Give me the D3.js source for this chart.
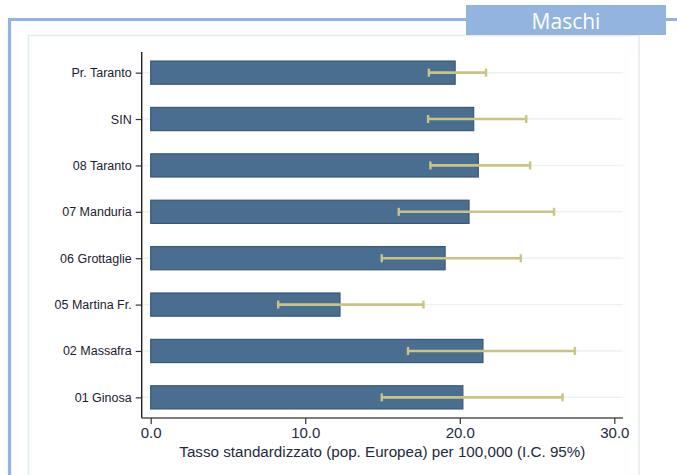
<!DOCTYPE html>
<html>
<head>
<meta charset="utf-8">
<script src="https://cdn.jsdelivr.net/npm/d3@7/dist/d3.min.js"></script>
<style>
  html, body { margin: 0; padding: 0; background: #fff; }
  svg { display: block; }
</style>
</head>
<body>
<svg id="chart" width="677" height="475"></svg>
<script>
// Standardized rates (European population) per 100,000 with 95% CI, males
const categories = ["Pr. Taranto", "SIN", "08 Taranto", "07 Manduria", "06 Grottaglie", "05 Martina Fr.", "02 Massafra", "01 Ginosa"];
const rates      = [19.7, 20.9, 21.2, 20.6, 19.05, 12.25, 21.5, 20.2];
const ciLow      = [18.0, 17.95, 18.1, 16.05, 14.95, 8.25, 16.65, 14.95];
const ciHigh     = [21.7, 24.3, 24.55, 26.1, 23.95, 17.65, 27.45, 26.65];
const xTicks     = [0, 10, 20, 30];
const panelTitle = "Maschi";
const axisTitle  = "Tasso standardizzato (pop. Europea) per 100,000 (I.C. 95%)";

const rows = categories.map((c, i) => ({ name: c, rate: rates[i], lo: ciLow[i], hi: ciHigh[i] }));

const svg = d3.select("#chart");

// Frame: light inner panel and blue outer border with the title tab
svg.append("rect")
  .attr("x", 28.5).attr("y", 35.5)
  .attr("width", 610.5).attr("height", 460)
  .attr("fill", "#fff").attr("stroke", "#e3edf1").attr("stroke-width", 1.5);

svg.append("path")
  .attr("d", "M9.5,480 V19.5 H677")
  .attr("fill", "none").attr("stroke", "#92b4de").attr("stroke-width", 3.2);

svg.append("rect")
  .attr("x", 466).attr("y", 5)
  .attr("width", 200).attr("height", 30)
  .attr("fill", "#92b4de");

svg.append("text")
  .attr("x", 566).attr("y", 28.5)
  .attr("text-anchor", "middle")
  .attr("font-family", "'Open Sans', 'Noto Sans', sans-serif")
  .attr("font-size", 21)
  .attr("fill", "#fff")
  .text(panelTitle);

// Scales
const plotLeft = 141.7, plotRight = 623, plotTop = 52, plotBottom = 418;
const x = d3.scaleLinear().domain([0, 30]).range([150.7, 614.3]);
const y = d3.scalePoint().domain(categories).range([plotTop, plotBottom]).padding(0.445);
const barH = y.step() * 0.5;

const g = svg.append("g");

// Horizontal grid lines at each category
g.selectAll("line.grid")
  .data(categories)
  .join("line")
  .attr("class", "grid")
  .attr("x1", plotLeft).attr("x2", plotRight)
  .attr("y1", d => y(d)).attr("y2", d => y(d))
  .attr("stroke", "#eaf2f5").attr("stroke-width", 1.5);

// Bars
g.selectAll("rect.bar")
  .data(rows)
  .join("rect")
  .attr("class", "bar")
  .attr("x", x(0))
  .attr("y", d => y(d.name) - barH / 2)
  .attr("width", d => x(d.rate) - x(0))
  .attr("height", barH)
  .attr("fill", "#4a6e8f")
  .attr("stroke", "#3b5878").attr("stroke-width", 1.2);

// Confidence intervals
const ciColor = "#c9c485";
const ci = g.selectAll("g.ci").data(rows).join("g").attr("class", "ci");
ci.append("line")
  .attr("x1", d => x(d.lo)).attr("x2", d => x(d.hi))
  .attr("y1", d => y(d.name)).attr("y2", d => y(d.name))
  .attr("stroke", ciColor).attr("stroke-width", 2.6);
ci.append("line")
  .attr("x1", d => x(d.lo)).attr("x2", d => x(d.lo))
  .attr("y1", d => y(d.name) - 4).attr("y2", d => y(d.name) + 4)
  .attr("stroke", ciColor).attr("stroke-width", 2.4);
ci.append("line")
  .attr("x1", d => x(d.hi)).attr("x2", d => x(d.hi))
  .attr("y1", d => y(d.name) - 4).attr("y2", d => y(d.name) + 4)
  .attr("stroke", ciColor).attr("stroke-width", 2.4);

// Y axis
const yAxis = svg.append("g")
  .attr("transform", `translate(${plotLeft},0)`)
  .call(d3.axisLeft(y).tickSize(6).tickPadding(4));
yAxis.select(".domain").attr("d", `M0,${plotTop}V${plotBottom}`).attr("stroke", "#222").attr("stroke-width", 1.4);
yAxis.selectAll(".tick line").attr("stroke", "#333").attr("stroke-width", 1.2);
yAxis.selectAll(".tick text")
  .attr("font-family", "'Liberation Sans', Arial, sans-serif")
  .attr("font-size", 12.5)
  .attr("fill", "#1a2030");

// X axis
const xAxis = svg.append("g")
  .attr("transform", `translate(0,${plotBottom})`)
  .call(d3.axisBottom(x).tickValues(xTicks).tickFormat(d3.format(".1f")).tickSize(6).tickPadding(3));
xAxis.select(".domain").attr("d", `M${plotLeft},0H${plotRight}`).attr("stroke", "#555").attr("stroke-width", 1.6);
xAxis.selectAll(".tick line").attr("stroke", "#333").attr("stroke-width", 1.2);
xAxis.selectAll(".tick text")
  .attr("font-family", "'Liberation Sans', Arial, sans-serif")
  .attr("font-size", 15)
  .attr("fill", "#1e2a3e");

svg.append("text")
  .attr("x", (plotLeft + plotRight) / 2)
  .attr("y", 456.5)
  .attr("text-anchor", "middle")
  .attr("font-family", "'Liberation Sans', Arial, sans-serif")
  .attr("font-size", 15.2)
  .attr("fill", "#1e2a3e")
  .text(axisTitle);
</script>
</body>
</html>
